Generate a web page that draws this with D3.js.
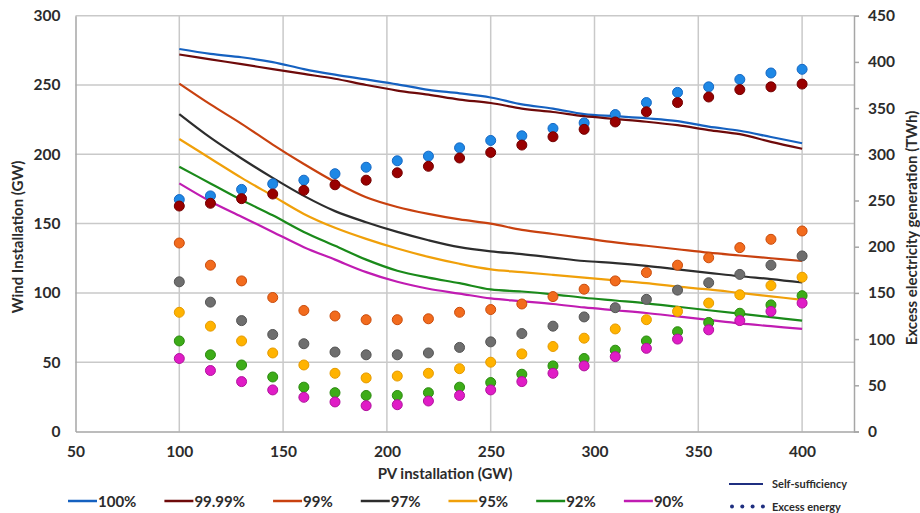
<!DOCTYPE html>
<html>
<head>
<meta charset="utf-8">
<script src="https://cdnjs.cloudflare.com/ajax/libs/d3/7.8.5/d3.min.js"></script>
<style>
  body { margin: 0; background: #fff; }
  text { font-family: Lato, 'Open Sans', sans-serif; font-weight: 700; fill: #2b2b2b; }
</style>
</head>
<body>
<div id="chart"></div>
<script>
// PV installation (GW) at which each scenario was run
const pvInstall = [100, 115, 130, 145, 160, 175, 190, 205, 220, 235, 250, 265, 280, 295, 310, 325, 340, 355, 370, 385, 400];

const seriesNames = ['100%', '99.99%', '99%', '97%', '95%', '92%', '90%'];

// wind installation needed (GW), left axis
const wind100 = [276, 272.5, 270, 266.5, 261.5, 257.5, 254, 250.5, 246.5, 244, 241, 236, 233, 229, 227.5, 226, 224, 220, 217, 212.5, 208];
const wind9999 = [272, 268.5, 265, 261.5, 258, 254.5, 250, 246, 243, 239.5, 237, 233, 230.5, 227.5, 225.5, 223.5, 221, 217.5, 214.5, 209, 204];
const wind99 = [251, 236, 222, 207, 193, 180, 169, 162, 157, 153, 150, 145.5, 142.5, 139.5, 136.5, 134, 131.5, 129, 127, 125, 123];
const wind97 = [229, 212, 197, 183, 170, 159, 151, 144, 138, 133, 130, 128, 125.5, 123, 121.5, 119.5, 117, 114.5, 112, 110, 107.5];
const wind95 = [211, 197, 183, 170, 157, 147, 139, 132, 126, 121, 117, 115, 113, 111, 109, 107, 104.5, 102.5, 100, 97.5, 95];
const wind92 = [191, 179, 167, 156, 144, 134, 124, 116, 111, 107, 102.5, 101, 99, 96.5, 94.5, 92.5, 90, 87.5, 85, 82.5, 80];
const wind90 = [179, 166, 155, 144, 133, 124, 115, 108, 103, 99.5, 96, 94, 92, 89.5, 87.5, 85.5, 83, 80.5, 78, 76, 74];

// excess electricity generation (TWh), right axis
const excess100 = [251, 255, 262, 268, 272, 279, 286, 293, 298, 307, 315, 320, 328, 334, 343, 356, 367, 373, 381, 388, 392];
const excess9999 = [244, 247, 252, 257, 261, 267, 272, 280, 287, 296, 302, 310, 319, 327, 335, 346, 356, 362, 370, 373, 376];
const excess99 = [204, 180, 163, 145, 131, 125, 121, 121, 122, 129, 132, 138, 146, 154, 163, 172, 180, 188, 199, 208, 217];
const excess97 = [162, 140, 120, 105, 95, 86, 83, 83, 85, 91, 97, 106, 114, 124, 134, 143, 153, 161, 170, 180, 190];
const excess95 = [129, 114, 98, 85, 72, 63, 58, 60, 63, 68, 75, 84, 92, 101, 111, 121, 130, 139, 148, 158, 167];
const excess92 = [98, 83, 72, 59, 48, 42, 39, 39, 42, 48, 53, 62, 71, 79, 88, 98, 108, 118, 128, 137, 147];
const excess90 = [79, 66, 54, 45, 37, 32, 28, 29, 33, 39, 45, 54, 63, 71, 81, 90, 100, 110, 120, 130, 139];

const xTicks = [50, 100, 150, 200, 250, 300, 350, 400];
const leftTicks = [0, 50, 100, 150, 200, 250, 300];
const rightTicks = [0, 50, 100, 150, 200, 250, 300, 350, 400, 450];

const windSeries = [wind100, wind9999, wind99, wind97, wind95, wind92, wind90];
const excessSeries = [excess100, excess9999, excess99, excess97, excess95, excess92, excess90];

const lineColors = ['#1561c0', '#6e0a0a', '#c8410f', '#2d2d2d', '#f0a00a', '#1a8a1a', '#c01cb2'];
const dotColors = ['#1e88e5', '#990000', '#f26b1d', '#6e6e6e', '#ffb300', '#3dac18', '#e01cc6'];
const dotStrokes = ['#1668c4', '#720000', '#c94c0c', '#545454', '#e59a00', '#2a8a0e', '#b0129c'];

const width = 920;
const height = 513;
const plotLeft = 75.5, plotRight = 854, plotTop = 15.7, plotBottom = 431.5;

const svg = d3.select('#chart')
              .append('svg')
              .attr('width', width)
              .attr('height', height);

const xScale = d3.scaleLinear().domain([50, 425]).range([plotLeft, plotRight]);
const yLeft = d3.scaleLinear().domain([0, 300]).range([plotBottom, plotTop]);
const yRight = d3.scaleLinear().domain([0, 450]).range([plotBottom, plotTop]);

// gridlines
svg.append('g')
   .selectAll('line')
   .data(leftTicks.slice(1))
   .join('line')
   .attr('x1', plotLeft).attr('x2', plotRight)
   .attr('y1', d => yLeft(d)).attr('y2', d => yLeft(d))
   .attr('stroke', '#c9c9c9')
   .attr('stroke-width', 1.5);

svg.append('g')
   .selectAll('line')
   .data(xTicks.slice(1))
   .join('line')
   .attr('x1', d => xScale(d)).attr('x2', d => xScale(d))
   .attr('y1', plotTop).attr('y2', plotBottom)
   .attr('stroke', '#c9c9c9')
   .attr('stroke-width', 1.5);

// axes
const xAxis = d3.axisBottom(xScale).tickValues(xTicks).tickSize(0).tickPadding(14);
const leftAxis = d3.axisLeft(yLeft).tickValues(leftTicks).tickSize(0).tickPadding(15);
const rightAxis = d3.axisRight(yRight).tickValues(rightTicks).tickSize(5).tickPadding(9);

svg.append('g')
   .attr('transform', 'translate(0, ' + plotBottom + ')')
   .call(xAxis);

svg.append('g')
   .attr('transform', 'translate(' + plotLeft + ', 0)')
   .call(leftAxis);

svg.append('g')
   .attr('transform', 'translate(' + plotRight + ', 0)')
   .call(rightAxis);

svg.selectAll('.domain').attr('stroke', '#a6a6a6').attr('stroke-width', 1.5);
svg.selectAll('.tick line').attr('stroke', '#a6a6a6').attr('stroke-width', 1.5);
svg.selectAll('.tick text').style('font-size', '15.5px').style('font-family', 'Lato, sans-serif').style('font-weight', 700).attr('fill', '#2b2b2b');

// axis titles
svg.append('text')
   .attr('x', 445).attr('y', 479)
   .attr('text-anchor', 'middle')
   .style('font-size', '15px')
   .text('PV installation (GW)');

svg.append('text')
   .attr('transform', 'translate(23, 237) rotate(-90)')
   .attr('text-anchor', 'middle')
   .style('font-size', '15px')
   .text('Wind Installation (GW)');

svg.append('text')
   .attr('transform', 'translate(917, 228) rotate(-90)')
   .attr('text-anchor', 'middle')
   .style('font-size', '15px')
   .text('Excess electricity generation (TWh)');

// self-sufficiency curves
const line = d3.line()
               .x((d, i) => xScale(pvInstall[i]))
               .y(d => yLeft(d))
               .curve(d3.curveCatmullRom.alpha(0.5));

svg.append('g')
   .selectAll('path')
   .data(windSeries)
   .join('path')
   .attr('d', line)
   .attr('fill', 'none')
   .attr('stroke', (d, i) => lineColors[i])
   .attr('stroke-width', 2.2);

// excess energy points
excessSeries.forEach((series, s) => {
  svg.append('g')
     .selectAll('circle')
     .data(series)
     .join('circle')
     .attr('cx', (d, i) => xScale(pvInstall[i]))
     .attr('cy', d => yRight(d))
     .attr('r', 5)
     .attr('fill', dotColors[s])
     .attr('stroke', dotStrokes[s])
     .attr('stroke-width', 1);
});

// legend for scenarios
const legend = svg.append('g');
let lx = 68;
seriesNames.forEach((name, i) => {
  legend.append('line')
        .attr('x1', lx).attr('x2', lx + 29)
        .attr('y1', 501).attr('y2', 501)
        .attr('stroke', lineColors[i])
        .attr('stroke-width', 2.5);
  const t = legend.append('text')
                  .attr('x', lx + 30).attr('y', 506.5)
                  .style('font-size', '15px')
                  .text(name);
  lx += 30 + t.node().getComputedTextLength() + 28;
});

// legend for marker types
legend.append('line')
      .attr('x1', 729).attr('x2', 763)
      .attr('y1', 484).attr('y2', 484)
      .attr('stroke', '#1f2f80')
      .attr('stroke-width', 2);

legend.append('text')
      .attr('x', 772).attr('y', 488)
      .style('font-size', '11px')
      .text('Self-sufficiency');

legend.selectAll('circle')
      .data([0, 1, 2, 3])
      .join('circle')
      .attr('cx', d => 732 + d * 10.3)
      .attr('cy', 506.5)
      .attr('r', 2)
      .attr('fill', '#1f2f80');

legend.append('text')
      .attr('x', 772).attr('y', 510.5)
      .style('font-size', '11px')
      .text('Excess energy');
</script>
</body>
</html>
